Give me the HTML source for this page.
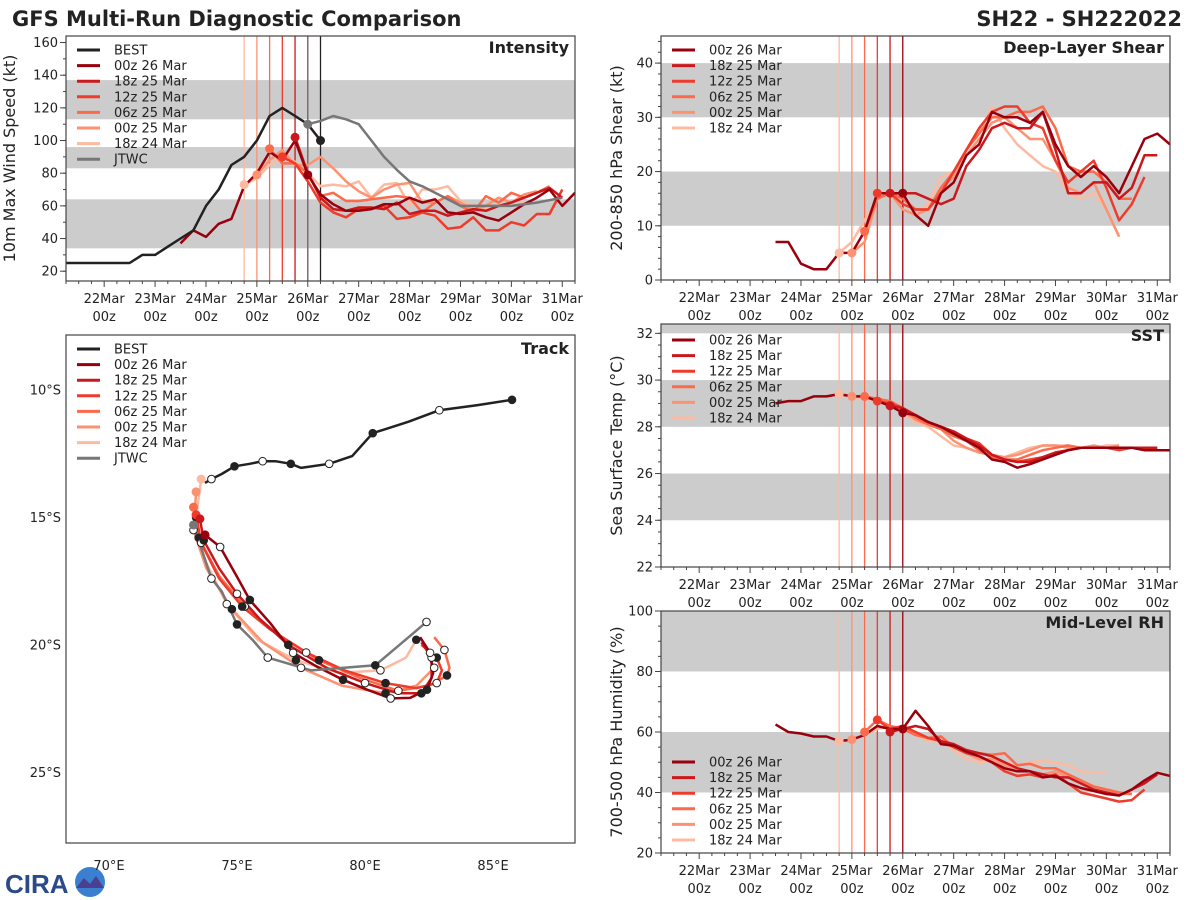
<!DOCTYPE html>
<html><head><meta charset="utf-8">
<style>
html,body{margin:0;padding:0;background:#fff;}
svg{display:block;font-family:"DejaVu Sans","Liberation Sans",sans-serif;}
</style></head>
<body>
<svg id="chart" width="1200" height="900" viewBox="0 0 1200 900" xmlns="http://www.w3.org/2000/svg">
<text x="12" y="26" font-size="21" font-weight="bold" fill="#222">GFS Multi-Run Diagnostic Comparison</text>
<text x="1182" y="26" font-size="21" font-weight="bold" fill="#222" text-anchor="end">SH22 - SH222022</text>
<g>
<text x="5" y="893" font-size="26" font-weight="bold" fill="#2b4a8a" font-family="Liberation Sans, sans-serif">CIRA</text>
<circle cx="90" cy="882" r="15" fill="#3a7fd0"/>
<path d="M76 888 L84 878 L90 884 L96 876 L104 888 Z" fill="#4b3f8f"/>
</g>
<g id="plots"></g>
</svg>
<script>
// ---------- data (time = days since 22Mar 00z, 6-hourly) ----------
const runNames = ["00z 26 Mar","18z 25 Mar","12z 25 Mar","06z 25 Mar","00z 25 Mar","18z 24 Mar"];
const runInit = [4.0,3.75,3.5,3.25,3.0,2.75];
const runStartInt = [1.5,3.75,3.5,3.25,3.0,2.75];
const int00z26 = [37,45,41,49,52,72,80,93,88,100,79,67,61,57,57,58,61,61,65,62,64,56,55,56,53,51,56,61,65,70,60,68];
const int18z25 = [102,80,65,58,57,59,59,58,62,55,57,57,54,56,58,57,60,62,65,68,71,65];
const int12z25 = [90,86,75,62,56,53,58,58,60,52,53,56,54,46,47,53,45,45,50,48,55,55,70];
const int06z25 = [95,86,86,80,66,68,63,63,64,65,66,65,56,62,66,60,56,66,62,68,65,68,72];
const int00z25 = [79,88,94,85,85,90,83,75,69,65,70,73,74,62,62,66,62,57,60,65,62,67,69];
const int18z24 = [73,77,85,90,87,80,72,73,72,75,65,73,74,60,70,70,72,63,60,58,61,60,62];
const bestStart = -0.75;
const intBest = [25,25,25,25,25,25,30,30,35,40,45,60,70,85,90,100,115,120,115,110,100];
const jtwcTimes = [4.0,4.25,4.5,4.75,5.0,5.25,5.5,5.75,6.0,6.25,6.5,6.75,7.0,7.5,8.0,8.5,9.0];
const intJtwc = [110,112,115,113,110,100,90,82,75,72,68,64,60,60,60,62,65];

const shrStart = [1.5,3.75,3.5,3.25,3.0,2.75];
const shr00z26 = [7,7,3,2,2,5,5,9,16,16,16,12,10,16,18,23,25,31,30,30,29,31,25,21,19,21,19,16,21,26,27,25];
const shr18z25 = [16,16,16,15,14,15,21,24,28,29,28,28,31,24,16,16,18,18,15,17,23,23];
const shr12z25 = [16,16,14,13,13,16,20,24,28,31,32,32,29,28,22,18,20,22,17,11,14,19];
const shr06z25 = [9,15,16,15,13,13,17,20,24,27,30,30,31,31,32,28,21,20,20,18,15,15];
const shr00z25 = [5,7,15,16,13,12,13,17,19,23,26,29,30,28,26,26,22,17,16,18,13,8];
const shr18z24 = [5,7,11,15,16,13,12,14,19,20,24,27,32,28,25,23,21,20,16,15,16,13,8];

const sst00z26 = [29.0,29.1,29.1,29.3,29.3,29.4,29.3,29.3,29.1,28.9,28.6,28.5,28.2,28.0,27.7,27.4,27.1,26.6,26.5,26.25,26.4,26.6,26.8,27.0,27.1,27.1,27.1,27.1,27.1,27.0,27.0,27.0];
const sst18z25 = [28.9,28.8,28.5,28.2,28.0,27.8,27.5,27.2,26.8,26.6,26.5,26.5,26.7,26.9,27.0,27.1,27.1,27.1,27.1,27.1,27.1,27.1];
const sst12z25 = [29.1,29.0,28.8,28.5,28.2,28.0,27.8,27.5,27.3,26.8,26.6,26.5,26.6,26.7,26.9,27.0,27.1,27.1,27.1,27.0,27.1,27.1];
const sst06z25 = [29.3,29.2,29.1,28.8,28.4,28.1,27.9,27.6,27.4,27.0,26.7,26.6,26.6,26.8,27.0,27.1,27.2,27.1,27.1,27.1,27.1,27.1];
const sst00z25 = [29.3,29.3,29.2,29.0,28.7,28.3,28.1,27.9,27.4,27.1,26.9,26.8,26.7,26.8,27.0,27.2,27.2,27.1,27.1,27.2,27.1,27.2];
const sst18z24 = [29.4,29.3,29.2,29.1,29.0,28.6,28.2,28.0,27.6,27.2,27.1,26.9,26.8,26.7,26.9,27.1,27.2,27.2,27.2,27.1,27.1,27.2,27.2];

const rh00z26 = [62.5,60,59.5,58.5,58.5,57,57.5,59,62,61,61,67,62,56,55.5,53.5,52,50,48,47,47,45,45.5,43,41.5,40.5,39.5,39,41,44,46.5,45.5];
const rh18z25 = [60,61,62,61,57,56,54,53,52,50,48,47,46,45,45,43,41,40,39,41,43,46];
const rh12z25 = [64,61,62,60,58,57,55,53,52,50,47,45.5,46,45,46,43,40,39,38,37,37.5,41];
const rh06z25 = [60,64,62,61,59,58,58.5,55,54,53,52.5,53,49,49.5,48,48,46,44,42,41,40,39.5];
const rh00z25 = [57.5,59,62,61,61,60,58,57,55,53,51,51,49,47,47,46,47,45,43,41,40,39.5,39.5];
const rh18z24 = [57,57.5,59,61,62,61,59,57,57,54,51,50,50.5,50,49,50,50.5,50,49,47,46.5,46.5];

const xTickLabels = ["22Mar","23Mar","24Mar","25Mar","26Mar","27Mar","28Mar","29Mar","30Mar","31Mar"];

// track data (lon E, lat negative = S)
const bestLon = [85.74,84.4,82.9,81.7,80.3,79.5,78.6,77.5,77.1,76.5,76.0,75.5,74.9,74.4,74.0,73.75];
const bestLat = [-10.39,-10.6,-10.8,-11.25,-11.7,-12.6,-12.9,-13.06,-12.9,-12.8,-12.8,-12.9,-13.0,-13.3,-13.5,-13.65];
const trk00z26Lon = [73.75,74.34,75.0,75.5,76.29,77.19,78.13,79.14,80.08,81.0,81.76,82.42,82.66,82.54,82.15];
const trk00z26Lat = [-15.69,-16.16,-17.33,-18.24,-19.14,-20.31,-20.86,-21.37,-21.76,-22.1,-22.08,-21.76,-21.1,-20.31,-19.7];
const trk18z25Lon = [73.55,73.7,74.3,75.0,75.9,77.0,78.5,80.0,81.3,82.2,82.6,82.6,82.2];
const trk18z25Lat = [-15.06,-15.9,-17.0,-18.0,-19.0,-20.0,-20.9,-21.5,-21.9,-21.9,-21.3,-20.5,-19.9];
const trk12z25Lon = [73.4,73.6,74.3,75.2,76.3,77.7,79.2,80.8,82.0,82.8,83.0,82.8,82.2];
const trk12z25Lat = [-14.9,-16.0,-17.4,-18.5,-19.4,-20.3,-21.0,-21.5,-21.7,-21.5,-21.0,-20.5,-20.0];
const trk06z25Lon = [73.3,73.5,74.3,75.3,76.6,78.2,79.8,81.3,82.5,83.2,83.3,83.1,82.7];
const trk06z25Lat = [-14.6,-15.8,-17.3,-18.5,-19.6,-20.6,-21.3,-21.8,-21.6,-21.2,-20.9,-20.2,-19.7];
const trk00z25Lon = [73.4,73.3,73.8,74.8,76.0,77.5,79.1,80.8,82.0,82.7,82.4];
const trk00z25Lat = [-14.0,-15.5,-17.0,-18.6,-19.9,-20.9,-21.6,-21.9,-21.6,-20.9,-20.3];
const trk18z24Lon = [73.6,73.4,73.7,74.6,75.8,77.3,79.0,80.6,81.6,82.0];
const trk18z24Lat = [-13.5,-15.0,-16.6,-18.4,-19.8,-20.6,-21.1,-21.0,-20.5,-19.8];
const jtwcLon = [73.3,74.0,74.4,75.0,75.6,76.2,77.9,80.4,81.7,82.4];
const jtwcLat = [-15.3,-17.4,-17.9,-19.2,-19.8,-20.5,-21.0,-20.8,-19.7,-19.1];

// ---------- drawing ----------
const colors = ["#99000d","#cb181d","#ef3b2c","#fb6a4a","#fc9272","#fcbba1"];
const NS = "http://www.w3.org/2000/svg";
const root = document.getElementById("plots");
function mk(tag, attrs, parent){
  const e = document.createElementNS(NS, tag);
  for (const k in attrs) e.setAttribute(k, attrs[k]);
  (parent||root).appendChild(e);
  return e;
}
function txt(x,y,s,size,anchor,parent,weight){
  const t = mk("text",{x:x,y:y,"font-size":size,"text-anchor":anchor||"start",fill:"#222"},parent);
  if(weight) t.setAttribute("font-weight",weight);
  t.textContent = s;
  return t;
}

function timePanel(cfg){
  const g = mk("g",{});
  
  
  const L=cfg.x0,R=cfg.x1,T=cfg.y0,B=cfg.y1;
  const tmin=-0.75,tmax=9.25;
  const X = t => L + (t-tmin)/(tmax-tmin)*(R-L);
  const Y = v => B - (v-cfg.vmin)/(cfg.vmax-cfg.vmin)*(B-T);
  const clip = "clip-"+cfg.name;
  const cp = mk("clipPath",{id:clip},g);
  mk("rect",{x:L,y:T,width:R-L,height:B-T},cp);
  const inner = mk("g",{"clip-path":"url(#"+clip+")"},g);
  cfg.bands.forEach(b=>{
    const r = mk("rect",{x:L,y:Y(b[1]),width:R-L,height:Y(b[0])-Y(b[1]),fill:"#cccccc"},inner);
    
    
  });
  // vertical init lines
  for(let i=runInit.length-1;i>=0;i--){
    const l = mk("line",{x1:X(runInit[i]),x2:X(runInit[i]),y1:T,y2:B,stroke:colors[i],"stroke-width":1.3},inner);
    
    
  }
  (cfg.extraV||[]).forEach(v=>{
    const l = mk("line",{x1:X(v[0]),x2:X(v[0]),y1:T,y2:B,stroke:v[1],"stroke-width":1.3},inner);
    
    
  });
  function seriesLine(times, vals, color, w, nm){
    const pts = vals.map((v,i)=>X(times[i]).toFixed(1)+","+Y(v).toFixed(1)).join(" ");
    const p = mk("polyline",{points:pts,fill:"none",stroke:color,"stroke-width":w,"stroke-linejoin":"round"},inner);
    
    
  }
  const order=[5,4,3,2,1,0];
  order.forEach(i=>{
    const vals = cfg.series[i], st = cfg.starts[i];
    seriesLine(vals.map((v,k)=>st+k*0.25), vals, colors[i], 2.5, 'series-'+runNames[i].replace(/ /g,'-').toLowerCase());
  });
  (cfg.extraSeries||[]).forEach(s=>seriesLine(s.times,s.vals,s.color,2.5,s.name));
  // init dots
  order.forEach(i=>{
    const vals=cfg.series[i], st=cfg.starts[i];
    const k=Math.round((runInit[i]-st)/0.25);
    const c = mk("circle",{cx:X(runInit[i]),cy:Y(vals[k]),r:4.5,fill:colors[i]},inner);
    
    
  });
  (cfg.extraDots||[]).forEach(d=>{
    const c = mk("circle",{cx:X(d[0]),cy:Y(d[1]),r:4.5,fill:d[2]},inner);
    
    
  });
  // frame
  const fr = mk("rect",{x:L,y:T,width:R-L,height:B-T,fill:"none",stroke:"#444","stroke-width":1.2},g);
  
  
  // x ticks
  const xa = mk("g",{},g);
  
  
  for(let t=-0.75;t<=9.25+1e-6;t+=0.25){
    const major = Math.abs(t-Math.round(t))<1e-6;
    mk("line",{x1:X(t),x2:X(t),y1:B,y2:B+(major?6:3),stroke:"#444","stroke-width":1},xa);
  }
  xTickLabels.forEach((s,i)=>{
    const a = txt(X(i),B+22,s,13,"middle",xa);
    
    
    const b = txt(X(i),B+40,"00z",13,"middle",xa);
    
    
  });
  // y ticks
  const ya = mk("g",{},g);
  
  
  for(let v=cfg.minorStart; v<=cfg.vmax+1e-6; v+=cfg.minor){
    mk("line",{x1:L-3,x2:L,y1:Y(v),y2:Y(v),stroke:"#444","stroke-width":1},ya);
  }
  cfg.ticks.forEach(v=>{
    mk("line",{x1:L-6,x2:L,y1:Y(v),y2:Y(v),stroke:"#444","stroke-width":1},ya);
    const a = txt(L-8,Y(v)+4.5,String(v),13,"end",ya);
    
    
  });
  const yt = txt(0,0,cfg.ytitle,16,"middle",ya);
  yt.setAttribute("transform","translate("+cfg.ytx+","+((T+B)/2)+") rotate(-90)");
  
  
  const pt = txt(R-6,T+17,cfg.title,16,"end",g,"bold");
  
  
  legend(g, L, cfg.legY, cfg.legNames, cfg.legColors);
}

function legend(g, L, y0, names, cols){
  const lg = mk("g",{},g);
  
  
  names.forEach((n,i)=>{
    const y = y0 + i*15.6;
    const e = mk("g",{},lg);
    
    
    mk("line",{x1:L+11,x2:L+34,y1:y,y2:y,stroke:cols[i],"stroke-width":3},e);
    txt(L+48,y+4.5,n,13,"start",e);
  });
}

timePanel({name:"intensity-panel",x0:66,x1:575,y0:36,y1:281,vmin:14,vmax:164,
  bands:[[34,64],[83,96],[113,137]],ticks:[20,40,60,80,100,120,140,160],minor:10,minorStart:20,
  series:[int00z26,int18z25,int12z25,int06z25,int00z25,int18z24],starts:runStartInt,
  extraV:[[4.0,"#777"],[4.25,"#222"]],
  extraSeries:[{times:intBest.map((v,k)=>bestStart+k*0.25),vals:intBest,color:"#222",name:"series-best"},
               {times:jtwcTimes,vals:intJtwc,color:"#777",name:"series-jtwc"}],
  extraDots:[[4.25,intBest[intBest.length-1],"#222"],[4.0,intJtwc[0],"#777"]],
  ytitle:"10m Max Wind Speed (kt)",ytx:15,title:"Intensity",legY:50,
  legNames:["BEST"].concat(runNames,["JTWC"]),legColors:["#222"].concat(colors,["#777"])});

timePanel({name:"shear-panel",x0:661,x1:1170,y0:36,y1:280,vmin:0,vmax:45,
  bands:[[10,20],[30,40]],ticks:[0,10,20,30,40],minor:2,minorStart:0,
  series:[shr00z26,shr18z25,shr12z25,shr06z25,shr00z25,shr18z24],starts:shrStart,
  ytitle:"200-850 hPa Shear (kt)",ytx:622,title:"Deep-Layer Shear",legY:50,
  legNames:runNames,legColors:colors});

timePanel({name:"sst-panel",x0:661,x1:1170,y0:324,y1:567,vmin:22,vmax:32.4,
  bands:[[24,26],[28,30],[32,33]],ticks:[22,24,26,28,30,32],minor:0.5,minorStart:22,
  series:[sst00z26,sst18z25,sst12z25,sst06z25,sst00z25,sst18z24],starts:shrStart,
  ytitle:"Sea Surface Temp (°C)",ytx:622,title:"SST",legY:340,
  legNames:runNames,legColors:colors});

timePanel({name:"rh-panel",x0:661,x1:1170,y0:611,y1:853,vmin:20,vmax:100,
  bands:[[40,60],[80,100]],ticks:[20,40,60,80,100],minor:5,minorStart:20,
  series:[rh00z26,rh18z25,rh12z25,rh06z25,rh00z25,rh18z24],starts:shrStart,
  ytitle:"700-500 hPa Humidity (%)",ytx:622,title:"Mid-Level RH",legY:762,
  legNames:runNames,legColors:colors});

// ---------- track panel ----------
(function(){
  const L=66,R=575,T=335,B=843;
  const lonMin=68.32,lonMax=88.2,latMax=-7.85,latMin=-27.77;
  const X = lon => L + (lon-lonMin)/(lonMax-lonMin)*(R-L);
  const Y = lat => T + (latMax-lat)/(latMax-latMin)*(B-T);
  const g = mk("g",{});
  
  
  const cp = mk("clipPath",{id:"clip-track"},g);
  mk("rect",{x:L,y:T,width:R-L,height:B-T},cp);
  const inner = mk("g",{"clip-path":"url(#clip-track)"},g);
  function track(lons,lats,color,nm){
    const pts = lons.map((v,i)=>X(v).toFixed(1)+","+Y(lats[i]).toFixed(1)).join(" ");
    const p = mk("polyline",{points:pts,fill:"none",stroke:color,"stroke-width":2.5,"stroke-linejoin":"round"},inner);
    
    
  }
  function markers(lons,lats,startBlack){
    lons.forEach((v,i)=>{
      if(i%2!==0) return;
      const black = ((i/2)%2===0)===startBlack;
      const c = mk("circle",{cx:X(v),cy:Y(lats[i]),r:3.8,fill:black?"#222":"#fff",stroke:"#222","stroke-width":1},inner);
      
      
    });
  }
  const tl=[[trk18z24Lon,trk18z24Lat],[trk00z25Lon,trk00z25Lat],[trk06z25Lon,trk06z25Lat],[trk12z25Lon,trk12z25Lat],[trk18z25Lon,trk18z25Lat],[trk00z26Lon,trk00z26Lat]];
  const ci=[5,4,3,2,1,0];
  tl.forEach((t,j)=>track(t[0],t[1],colors[ci[j]],'track-'+runNames[ci[j]].replace(/ /g,'-').toLowerCase()));
  track(jtwcLon,jtwcLat,"#777","track-jtwc");
  track(bestLon,bestLat,"#222","track-best");
  tl.forEach((t,j)=>{
    const c = mk("circle",{cx:X(t[0][0]),cy:Y(t[1][0]),r:4.5,fill:colors[ci[j]]},inner);
    
    
    markers(t[0].slice(1),t[1].slice(1),j%2===0);
  });
  const jc = mk("circle",{cx:X(jtwcLon[0]),cy:Y(jtwcLat[0]),r:4.5,fill:"#777"},inner);
  
  
  markers(jtwcLon.slice(1),jtwcLat.slice(1),false);
  markers(bestLon,bestLat,true);
  const fr = mk("rect",{x:L,y:T,width:R-L,height:B-T,fill:"none",stroke:"#444","stroke-width":1.2},g);
  
  
  [70,75,80,85].forEach(v=>{
    const a = txt(X(v),870,v+"°E",13,"middle",g);
    
    
  });
  [10,15,20,25].forEach(v=>{
    const a = txt(61,Y(-v)+4.5,v+"°S",13,"end",g);
    
    
  });
  const pt = txt(R-6,T+19,"Track",16,"end",g,"bold");
  
  
  legend(g, L, 349, ["BEST"].concat(runNames,["JTWC"]), ["#222"].concat(colors,["#777"]));
})();
</script>
</body></html>
